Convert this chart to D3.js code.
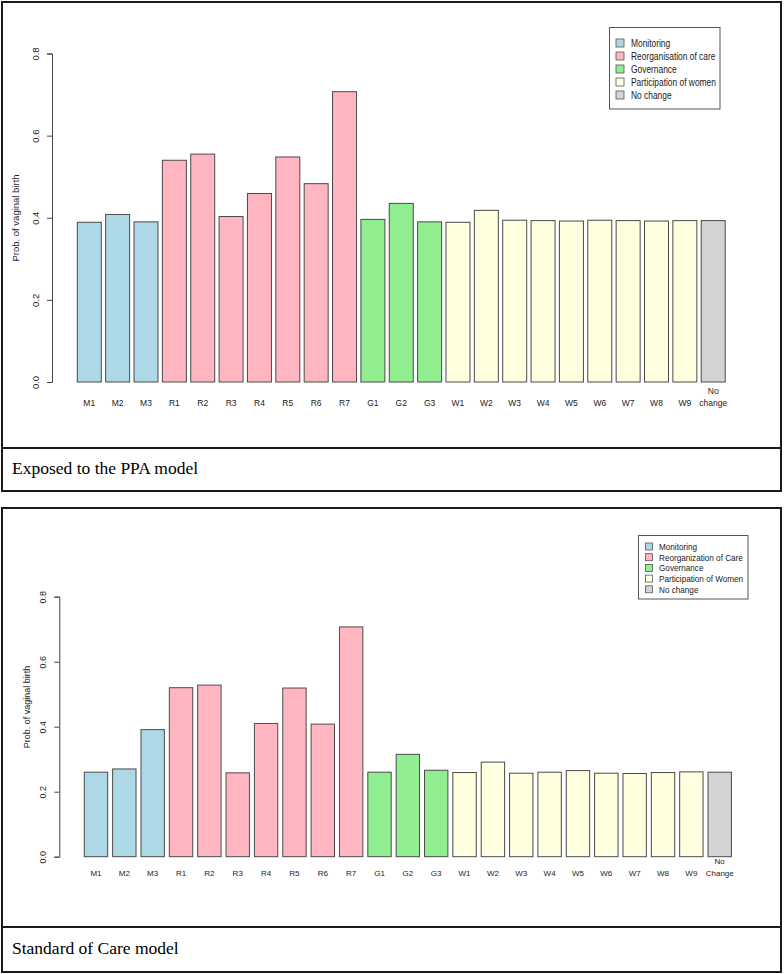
<!DOCTYPE html>
<html>
<head>
<meta charset="utf-8">
<script src="https://cdn.jsdelivr.net/npm/d3@7"></script>
<style>
  body { margin: 0; background: #fff; }
  svg { display: block; }
  text { font-family: "Liberation Sans", Arial, sans-serif; fill: #1a1a1a; }
</style>
</head>
<body>
<script>
// bar categories and their group
var categories = ["M1","M2","M3","R1","R2","R3","R4","R5","R6","R7",
                  "G1","G2","G3","W1","W2","W3","W4","W5","W6","W7","W8","W9","NC"];
var groups = ["m","m","m","r","r","r","r","r","r","r",
              "g","g","g","w","w","w","w","w","w","w","w","w","n"];

// probabilities
var ppaValues = [0.389, 0.408, 0.390, 0.540, 0.555, 0.403, 0.459, 0.548, 0.483, 0.707,
                 0.396, 0.435, 0.390, 0.389, 0.418, 0.394, 0.393, 0.392, 0.394, 0.393, 0.392, 0.393, 0.393];
var socValues = [0.260, 0.270, 0.391, 0.520, 0.528, 0.258, 0.410, 0.519, 0.408, 0.707,
                 0.260, 0.315, 0.266, 0.259, 0.291, 0.257, 0.260, 0.265, 0.257, 0.256, 0.259, 0.261, 0.260];

var yTicks = [0, 0.2, 0.4, 0.6, 0.8];
var groupKeys = ["m","r","g","w","n"];
var groupColors = ["#add8e6","#ffb6c1","#90ee90","#ffffe0","#d3d3d3"];
var ppaLegend = ["Monitoring","Reorganisation of care","Governance","Participation of women","No change"];
var socLegend = ["Monitoring","Reorganization of Care","Governance","Participation of Women","No change"];

var color = d3.scaleOrdinal().domain(groupKeys).range(groupColors);

var svg = d3.select("body").append("svg")
  .attr("width", 784)
  .attr("height", 974);

function drawPanel(opt) {
  var g = svg.append("g");

  // frame + caption box
  g.append("rect")
    .attr("x", 2).attr("y", opt.top)
    .attr("width", 779).attr("height", opt.bottom - opt.top)
    .attr("fill", "none").attr("stroke", "#1a1a1a").attr("stroke-width", 2);
  g.append("line")
    .attr("x1", 2).attr("x2", 781)
    .attr("y1", opt.divider).attr("y2", opt.divider)
    .attr("stroke", "#1a1a1a").attr("stroke-width", 2);
  g.append("text")
    .attr("x", 12).attr("y", opt.captionY)
    .style("font-family", "'Liberation Serif', 'Times New Roman', serif")
    .style("font-size", "17.5px")
    .style("fill", "#000")
    .text(opt.caption);

  var x = d3.scaleBand()
    .domain(categories)
    .range(opt.xRange)
    .paddingInner(opt.pad)
    .paddingOuter(opt.pad / 2);
  var y = d3.scaleLinear().domain([0, 0.8]).range(opt.yRange);

  // y axis
  var yAxis = g.append("g")
    .attr("transform", "translate(" + opt.axisX + ",0)")
    .call(d3.axisLeft(y).tickValues(yTicks).tickFormat(d3.format(".1f")).tickSize(5));
  yAxis.select(".domain").attr("stroke", "#444");
  yAxis.selectAll(".tick line").attr("stroke", "#444");
  yAxis.selectAll(".tick text")
    .attr("x", 0).attr("y", 0)
    .attr("dy", null)
    .attr("text-anchor", "middle")
    .attr("transform", "translate(-13,0) rotate(-90)")
    .style("font-size", opt.tickFont + "px")
    .style("font-family", "'Liberation Sans', Arial, sans-serif")
    .style("fill", "#222");

  g.append("text")
    .attr("transform", "translate(" + opt.titleX + "," + opt.titleY + ") rotate(-90)")
    .attr("text-anchor", "middle")
    .style("font-size", opt.titleFont + "px")
    .text("Prob. of vaginal birth");

  // bars
  g.selectAll("rect.bar")
    .data(opt.values)
    .enter().append("rect")
      .attr("class", "bar")
      .attr("x", (d, i) => x(categories[i]))
      .attr("y", d => y(d))
      .attr("width", x.bandwidth())
      .attr("height", d => y(0) - y(d))
      .attr("fill", (d, i) => color(groups[i]))
      .attr("stroke", "#4a4a4a")
      .attr("stroke-width", 1);

  // x labels
  var labY = opt.labelY;
  categories.forEach(function (c, i) {
    var cx = x(c) + x.bandwidth() / 2;
    if (c === "NC") {
      g.append("text").attr("x", cx).attr("y", labY - 12.5)
        .attr("text-anchor", "middle").style("font-size", opt.labFont + "px").text("No");
      g.append("text").attr("x", cx).attr("y", labY)
        .attr("text-anchor", "middle").style("font-size", opt.labFont + "px").text(opt.ncLabel);
    } else {
      g.append("text").attr("x", cx).attr("y", labY)
        .attr("text-anchor", "middle").style("font-size", opt.labFont + "px").text(c);
    }
  });

  // legend
  var lg = g.append("g");
  lg.append("rect")
    .attr("x", opt.leg.x).attr("y", opt.leg.y)
    .attr("width", opt.leg.w).attr("height", opt.leg.h)
    .attr("fill", "#fff").attr("stroke", "#555").attr("stroke-width", 1);
  opt.legend.forEach(function (name, i) {
    var ly = opt.leg.first + i * opt.leg.step;
    lg.append("rect")
      .attr("x", opt.leg.sx - opt.leg.ss / 2).attr("y", ly - opt.leg.ss / 2)
      .attr("width", opt.leg.ss).attr("height", opt.leg.ss)
      .attr("fill", groupColors[i]).attr("stroke", "#555").attr("stroke-width", 0.8);
    lg.append("text")
      .attr("transform", "translate(" + opt.leg.tx + "," + (ly + opt.leg.font * 0.36) + ") scale(" + opt.leg.squeeze + ",1)")
      .style("font-size", opt.leg.font + "px")
      .text(name);
  });
}

drawPanel({
  top: 2, bottom: 491, divider: 448, captionY: 474,
  caption: "Exposed to the PPA model",
  values: ppaValues,
  xRange: [75.1, 727.4], pad: 0.154,
  yRange: [382, 53.5],
  axisX: 52, tickFont: 9.5,
  titleX: 19, titleY: 218, titleFont: 9.5,
  labelY: 406, labFont: 8.5, ncLabel: "change",
  legend: ppaLegend,
  leg: { x: 609.5, y: 27.5, w: 110.5, h: 81.5, first: 43, step: 13,
         sx: 620, ss: 8, tx: 631, font: 10.5, squeeze: 0.8 }
});

drawPanel({
  top: 508, bottom: 972, divider: 927, captionY: 954,
  caption: "Standard of Care model",
  values: socValues,
  xRange: [81.8, 733.9], pad: 0.175,
  yRange: [856.7, 596.7],
  axisX: 59.3, tickFont: 9,
  titleX: 30, titleY: 707, titleFont: 9,
  labelY: 876, labFont: 8, ncLabel: "Change",
  legend: socLegend,
  leg: { x: 638.5, y: 535.5, w: 109.5, h: 63.5, first: 546.5, step: 10.7,
         sx: 649, ss: 7, tx: 659, font: 9.5, squeeze: 0.86 }
});
</script>
</body>
</html>
